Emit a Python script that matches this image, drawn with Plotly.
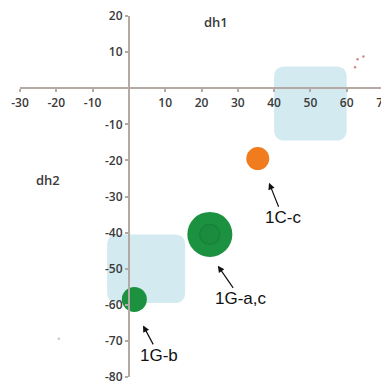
import plotly.graph_objects as go

# ---- data ----
point_names = ["1C-c", "1G-a,c", "1G-b"]
dh1_values = [35.5, 22.3, 1.5]
dh2_values = [-19.5, -40.5, -58.5]
point_colors = ["#f07c1e", "#1c9140", "#1c9140"]

x_ticks = [-30, -20, -10, 10, 20, 30, 40, 50, 60, 70]
y_ticks = [20, 10, -10, -20, -30, -40, -50, -60, -70, -80]

# shaded regions (x0, x1, y0, y1) in data units
region_x = [[40, 60], [-6, 15.5]]
region_y = [[6, -14.5], [-40.5, -59.5]]

# stray speck points
speck_x = [62.3, 63.0, 64.6, -19.3]
speck_y = [5.8, 8.0, 8.8, -69.4]

axis_color = "#b3a9a5"
text_color = "#3a3a3a"

fig = go.Figure()

def rounded_path(x0, x1, y0, y1, rx=3.0, ry=3.0):
    xa, xb = min(x0, x1), max(x0, x1)
    ya, yb = min(y0, y1), max(y0, y1)
    return (f"M {xa+rx},{ya} L {xb-rx},{ya} Q {xb},{ya} {xb},{ya+ry} "
            f"L {xb},{yb-ry} Q {xb},{yb} {xb-rx},{yb} L {xa+rx},{yb} "
            f"Q {xa},{yb} {xa},{yb-ry} L {xa},{ya+ry} Q {xa},{ya} {xa+rx},{ya} Z")

for (xr, yr) in zip(region_x, region_y):
    fig.add_shape(type="path", path=rounded_path(xr[0], xr[1], yr[0], yr[1]),
                  xref="x", yref="y", fillcolor="#d3eaf1", line=dict(width=0),
                  layer="below")

# specks
fig.add_trace(go.Scatter(x=speck_x, y=speck_y, mode="markers",
                         marker=dict(size=2.5, opacity=1,
                                     color=["#d08a8a", "#d08a8a", "#d08a8a", "#c8c8c8"]),
                         hoverinfo="skip", showlegend=False))

# bubbles
marker_sizes = [23, 45, 25]
fig.add_trace(go.Scatter(x=dh1_values, y=dh2_values, mode="markers",
                         marker=dict(size=marker_sizes, color=point_colors, opacity=1,
                                     line=dict(width=0)),
                         text=point_names, showlegend=False))
# inner ring on the large bubble
fig.add_trace(go.Scatter(x=[dh1_values[1]], y=[dh2_values[1]], mode="markers",
                         marker=dict(size=20, color="#1b8b3d", opacity=1,
                                     line=dict(width=1.2, color="#17803a")),
                         hoverinfo="skip", showlegend=False))

# axis titles placed inside plot
fig.add_annotation(x=24, y=18.3, text="dh1", showarrow=False,
                   font=dict(size=13, color=text_color, family="Open Sans", weight=600))
fig.add_annotation(x=-22.3, y=-25.5, text="dh2", showarrow=False,
                   font=dict(size=13, color=text_color, family="Open Sans", weight=600))

# arrow labels: tip near each bubble, text offset in pixels
arrow_tips = [(38.6, -26.2), (24.5, -49.2), (3.9, -65.7)]
arrow_offsets = [(14, 35), (23, 33), (16, 30)]
for name, (tx, ty), (ax, ay) in zip(point_names, arrow_tips, arrow_offsets):
    fig.add_annotation(x=tx, y=ty, ax=ax, ay=ay, text=name, showarrow=True,
                       arrowhead=2, arrowsize=1.1, arrowwidth=1.2,
                       arrowcolor="#111111", standoff=0,
                       font=dict(size=17, color="#111111", family="Liberation Sans"))

tickfont = dict(size=12, color=text_color, family="Open Sans", weight=600)
# page body has an 8px default margin, so the figure is sized to fit inside it
fig.update_layout(
    width=381, height=376,
    margin=dict(l=12, r=6, t=8, b=7),
    paper_bgcolor="white", plot_bgcolor="white",
    xaxis=dict(range=[-30, 70], anchor="free", position=0.8, automargin=False,
               showline=True, linecolor=axis_color, linewidth=2,
               ticks="outside", ticklen=3, tickwidth=1.5, tickcolor=axis_color,
               tickvals=x_ticks, ticktext=[str(v) for v in x_ticks],
               ticklabeloverflow="allow",
               showgrid=False, zeroline=False, tickfont=tickfont),
    yaxis=dict(range=[-80, 20], anchor="free", position=0.3, automargin=False,
               showline=True, linecolor=axis_color, linewidth=2,
               ticks="outside", ticklen=3, tickwidth=1.5, tickcolor=axis_color,
               tickvals=y_ticks, ticktext=[str(v) for v in y_ticks],
               ticklabeloverflow="allow",
               showgrid=False, zeroline=False, tickfont=tickfont),
)

fig.write_html("out.html")
